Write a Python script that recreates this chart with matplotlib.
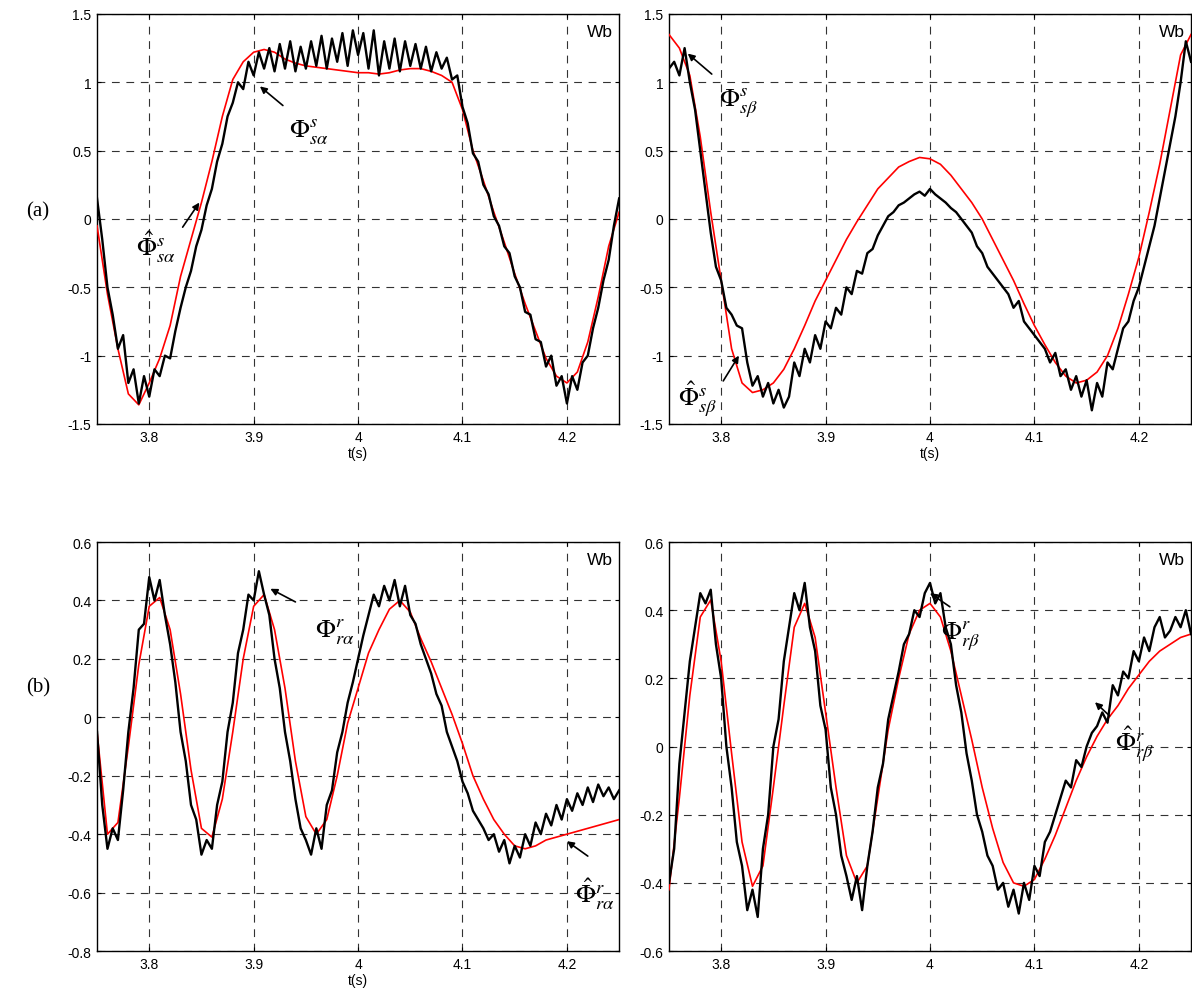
import numpy as np
import matplotlib
matplotlib.use("Agg")
import matplotlib.pyplot as plt

plt.rcParams['mathtext.fontset'] = 'stix'
plt.rcParams['font.family'] = ['Liberation Sans', 'DejaVu Sans']

# time bases (s): red traces read every 10 ms, black traces every 5 ms
t_red = np.linspace(3.75, 4.25, 51)
t_blk = np.linspace(3.75, 4.25, 101)

# (a) stator flux, alpha axis
sa_est = [-0.05, -0.55, -0.95, -1.28, -1.36, -1.2, -1.02, -0.78, -0.42, -0.15,
          0.12, 0.42, 0.75, 1.02, 1.15, 1.22, 1.24, 1.22, 1.17, 1.14,
          1.12, 1.11, 1.1, 1.09, 1.08, 1.07, 1.07, 1.06, 1.07, 1.09,
          1.1, 1.1, 1.08, 1.05, 1.0, 0.8, 0.5, 0.28, 0.05, -0.17,
          -0.4, -0.62, -0.82, -1.02, -1.15, -1.2, -1.12, -0.9, -0.57, -0.2,
          0.05]
sa_meas = [0.15, -0.15, -0.5, -0.7, -0.95, -0.85, -1.2, -1.1, -1.35, -1.15,
           -1.3, -1.1, -1.15, -1.0, -1.02, -0.82, -0.65, -0.5, -0.38, -0.2,
           -0.08, 0.1, 0.22, 0.42, 0.55, 0.75, 0.85, 1.0, 0.95, 1.15,
           1.05, 1.22, 1.1, 1.25, 1.08, 1.28, 1.1, 1.3, 1.08, 1.26,
           1.1, 1.3, 1.12, 1.34, 1.1, 1.32, 1.15, 1.36, 1.12, 1.38,
           1.2, 1.36, 1.1, 1.38, 1.05, 1.3, 1.1, 1.32, 1.08, 1.3,
           1.12, 1.28, 1.1, 1.26, 1.08, 1.22, 1.1, 1.18, 1.02, 1.05,
           0.82, 0.7, 0.48, 0.42, 0.25, 0.18, 0.02, -0.05, -0.2, -0.25,
           -0.42, -0.5, -0.68, -0.7, -0.88, -0.9, -1.08, -1.0, -1.22, -1.15,
           -1.35, -1.15, -1.25, -1.05, -1.0, -0.8, -0.65, -0.45, -0.3, -0.05,
           0.15]

# (a) stator flux, beta axis
sb_est = [1.35, 1.25, 1.05, 0.6, 0.05, -0.45, -0.95, -1.2, -1.27, -1.25,
          -1.2, -1.1, -0.95, -0.78, -0.6, -0.45, -0.3, -0.15, -0.02, 0.1,
          0.22, 0.3, 0.38, 0.42, 0.45, 0.44, 0.4, 0.32, 0.22, 0.12,
          0.0, -0.15, -0.3, -0.45, -0.62, -0.78, -0.92, -1.05, -1.15, -1.2,
          -1.18, -1.12, -1.0, -0.8, -0.55, -0.28, 0.05, 0.4, 0.8, 1.2,
          1.35]
sb_meas = [1.1, 1.15, 1.05, 1.25, 1.0, 0.8, 0.5, 0.2, -0.1, -0.35,
           -0.45, -0.65, -0.7, -0.78, -0.8, -1.05, -1.22, -1.15, -1.3, -1.2,
           -1.35, -1.25, -1.38, -1.3, -1.05, -1.15, -0.95, -1.05, -0.85, -0.95,
           -0.75, -0.8, -0.65, -0.7, -0.5, -0.55, -0.38, -0.4, -0.25, -0.22,
           -0.12, -0.05, 0.02, 0.05, 0.1, 0.12, 0.15, 0.18, 0.2, 0.17,
           0.22, 0.18, 0.15, 0.12, 0.08, 0.05, 0.0, -0.05, -0.1, -0.2,
           -0.25, -0.35, -0.4, -0.45, -0.5, -0.55, -0.65, -0.6, -0.75, -0.8,
           -0.85, -0.9, -0.95, -1.05, -0.98, -1.15, -1.1, -1.25, -1.15, -1.3,
           -1.18, -1.4, -1.2, -1.3, -1.05, -1.1, -0.95, -0.8, -0.75, -0.6,
           -0.5, -0.35, -0.2, -0.05, 0.15, 0.35, 0.55, 0.75, 1.0, 1.3,
           1.15]

# (b) rotor flux, alpha axis
ra_est = [-0.05, -0.4, -0.36, -0.1, 0.18, 0.38, 0.41, 0.3, 0.08, -0.18,
          -0.38, -0.41, -0.28, -0.05, 0.2, 0.38, 0.42, 0.3, 0.1, -0.15,
          -0.34, -0.4, -0.35, -0.2, -0.02, 0.1, 0.22, 0.3, 0.37, 0.4,
          0.36, 0.27, 0.19, 0.1, 0.01, -0.09, -0.2, -0.28, -0.35, -0.4,
          -0.44, -0.45, -0.44, -0.42, -0.41, -0.4, -0.39, -0.38, -0.37, -0.36,
          -0.35]
ra_meas = [-0.05, -0.3, -0.45, -0.38, -0.42, -0.25, -0.05, 0.1, 0.3, 0.32,
           0.48, 0.4, 0.47, 0.35, 0.25, 0.12, -0.05, -0.15, -0.3, -0.35,
           -0.47, -0.42, -0.45, -0.3, -0.22, -0.05, 0.05, 0.22, 0.3, 0.42,
           0.4, 0.5, 0.42, 0.35, 0.2, 0.1, -0.05, -0.15, -0.28, -0.38,
           -0.42, -0.47, -0.38, -0.45, -0.3, -0.25, -0.12, -0.05, 0.05, 0.12,
           0.2, 0.28, 0.35, 0.42, 0.38, 0.45, 0.4, 0.47, 0.38, 0.45,
           0.35, 0.32, 0.25, 0.2, 0.15, 0.08, 0.04, -0.05, -0.1, -0.15,
           -0.22, -0.26, -0.32, -0.35, -0.38, -0.42, -0.4, -0.46, -0.42, -0.5,
           -0.44, -0.48, -0.4, -0.44, -0.36, -0.4, -0.33, -0.37, -0.3, -0.35,
           -0.28, -0.32, -0.26, -0.3, -0.24, -0.29, -0.23, -0.27, -0.24, -0.28,
           -0.25]

# (b) rotor flux, beta axis
rb_est = [-0.42, -0.15, 0.15, 0.38, 0.43, 0.25, -0.02, -0.28, -0.41, -0.35,
          -0.12, 0.12, 0.35, 0.42, 0.32, 0.1, -0.12, -0.32, -0.4, -0.35,
          -0.15, 0.05, 0.2, 0.33, 0.4, 0.42, 0.38, 0.28, 0.15, 0.02,
          -0.12, -0.24, -0.34, -0.4, -0.41, -0.39, -0.33, -0.26, -0.18, -0.1,
          -0.03, 0.03, 0.08, 0.12, 0.17, 0.21, 0.25, 0.28, 0.3, 0.32,
          0.33]
rb_meas = [-0.4, -0.3, -0.05, 0.1, 0.25, 0.35, 0.45, 0.42, 0.46, 0.3,
           0.2, 0.0, -0.12, -0.28, -0.35, -0.48, -0.42, -0.5, -0.3, -0.2,
           0.0, 0.08, 0.25, 0.35, 0.45, 0.4, 0.48, 0.35, 0.28, 0.12,
           0.05, -0.12, -0.2, -0.32, -0.38, -0.45, -0.38, -0.48, -0.35, -0.25,
           -0.12, -0.05, 0.08, 0.15, 0.22, 0.3, 0.33, 0.4, 0.38, 0.45,
           0.48, 0.42, 0.45, 0.35, 0.3, 0.18, 0.1, -0.02, -0.1, -0.2,
           -0.25, -0.32, -0.35, -0.42, -0.4, -0.47, -0.42, -0.49, -0.4, -0.45,
           -0.35, -0.38, -0.28, -0.25, -0.2, -0.15, -0.1, -0.12, -0.04, -0.06,
           0.0, 0.04, 0.06, 0.1, 0.07, 0.18, 0.15, 0.22, 0.2, 0.28,
           0.25, 0.32, 0.28, 0.35, 0.38, 0.32, 0.34, 0.38, 0.35, 0.4,
           0.33]

xticks = [3.8, 3.9, 4.0, 4.1, 4.2]
xticklabels = ['3.8', '3.9', '4', '4.1', '4.2']


def panel(ax, meas, est, ylim, yticks, ylabels, xlabel=True):
    ax.plot(t_red, est, color='red', lw=1.2, zorder=3)
    ax.plot(t_blk, meas, color='black', lw=1.7, zorder=4)
    ax.set_xlim(3.75, 4.25)
    ax.set_ylim(*ylim)
    ax.set_xticks(xticks)
    ax.set_xticklabels(xticklabels)
    ax.set_yticks(yticks)
    ax.set_yticklabels(ylabels)
    ax.grid(True, color='0.2', lw=0.8, ls=(0, (7, 6)))
    ax.tick_params(direction='in', length=3, labelsize=10, pad=4,
                   top=True, right=True)
    for s in ax.spines.values():
        s.set_linewidth(1.0)
    if xlabel:
        ax.set_xlabel('t(s)', fontsize=10, labelpad=2)
    ax.text(0.988, 0.975, 'Wb', transform=ax.transAxes, ha='right', va='top',
            fontsize=12.5)


def note(ax, label, head, tail, pos):
    ax.annotate('', xy=head, xytext=tail,
                arrowprops=dict(arrowstyle='-|>', color='k', lw=1.2,
                                mutation_scale=10, shrinkA=0, shrinkB=0),
                zorder=6)
    ax.text(pos[0], pos[1], label, fontsize=19, ha='center', va='center',
            zorder=6)


fig = plt.figure(figsize=(11.92, 10.03), dpi=100)
ax1 = fig.add_axes([0.0814, 0.5763, 0.438, 0.4088])
ax2 = fig.add_axes([0.5612, 0.5763, 0.438, 0.4088])
ax3 = fig.add_axes([0.0814, 0.0508, 0.438, 0.4078])
ax4 = fig.add_axes([0.5612, 0.0508, 0.438, 0.4078])

big = [-1.5, -1, -0.5, 0, 0.5, 1, 1.5]
big_lbl = ['-1.5', '-1', '-0.5', '0', '0.5', '1', '1.5']
panel(ax1, sa_meas, sa_est, (-1.5, 1.5), big, big_lbl)
panel(ax2, sb_meas, sb_est, (-1.5, 1.5), big, big_lbl)
panel(ax3, ra_meas, ra_est, (-0.8, 0.6),
      [-0.8, -0.6, -0.4, -0.2, 0, 0.2, 0.4, 0.6],
      ['-0.8', '-0.6', '-0.4', '-0.2', '0', '0.2', '0.4', '0.6'])
panel(ax4, rb_meas, rb_est, (-0.6, 0.6),
      [-0.6, -0.4, -0.2, 0, 0.2, 0.4, 0.6],
      ['-0.6', '-0.4', '-0.2', '0', '0.2', '0.4', '0.6'], xlabel=False)

note(ax1, r'$\Phi^{s}_{s\alpha}$', (3.906, 0.97), (3.928, 0.83), (3.953, 0.64))
note(ax1, r'$\hat{\Phi}^{s}_{s\alpha}$', (3.848, 0.12), (3.832, -0.06), (3.806, -0.2))
note(ax2, r'$\Phi^{s}_{s\beta}$', (3.768, 1.21), (3.791, 1.06), (3.817, 0.86))
note(ax2, r'$\hat{\Phi}^{s}_{s\beta}$', (3.817, -1.0), (3.802, -1.185), (3.777, -1.31))
note(ax3, r'$\Phi^{r}_{r\alpha}$', (3.916, 0.44), (3.94, 0.395), (3.978, 0.295))
note(ax3, r'$\hat{\Phi}^{r}_{r\alpha}$', (4.2, -0.424), (4.22, -0.475), (4.227, -0.6))
note(ax4, r'$\Phi^{r}_{r\beta}$', (4.0, 0.45), (4.019, 0.41), (4.029, 0.33))
note(ax4, r'$\hat{\Phi}^{r}_{r\beta}$', (4.158, 0.13), (4.172, 0.09), (4.196, 0.01))

fig.text(0.032, 1 - 212 / 1003, '(a)', fontsize=15, family='Liberation Serif',
         ha='center', va='center')
fig.text(0.032, 1 - 688 / 1003, '(b)', fontsize=15, family='Liberation Serif',
         ha='center', va='center')

fig.savefig('out.png', dpi=100)
